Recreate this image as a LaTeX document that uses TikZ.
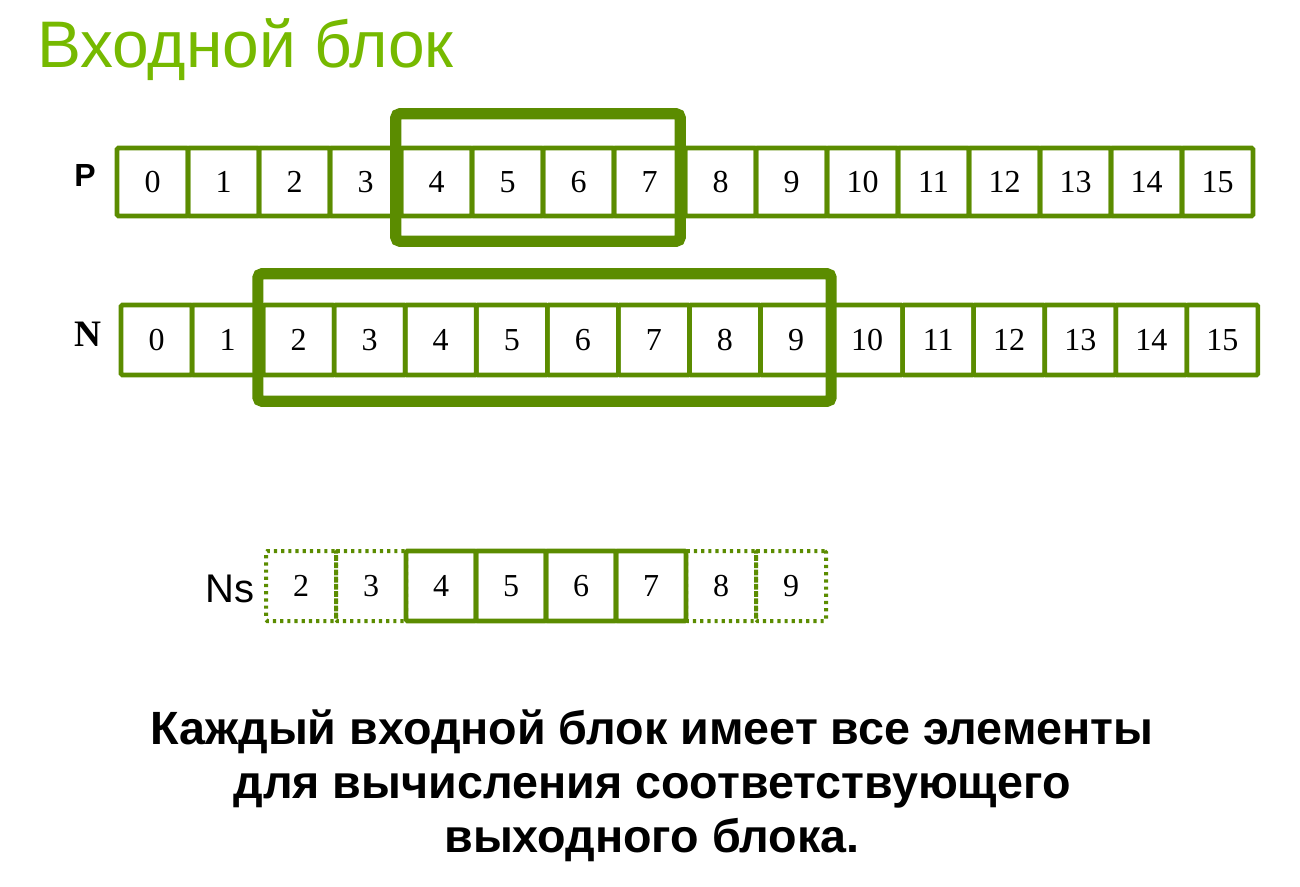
\documentclass[tikz,border=0pt]{standalone}
\usepackage{fontspec}
\setmainfont{Liberation Serif}
\newfontfamily\arialfont{Liberation Sans}
\usetikzlibrary{positioning,calc}
\definecolor{cgreen}{HTML}{5B8C00}
\definecolor{clime}{HTML}{76B900}

\begin{document}
\begin{tikzpicture}[x=0.75pt, y=-0.75pt,
  cell/.style={draw=cgreen, line width=3.4pt, rounded corners=1pt, minimum width=53.25pt,
    minimum height=51pt, inner sep=0pt, font=\fontsize{24}{28}\selectfont},
  ncell/.style={cell, minimum height=52.5pt},
  scell/.style={ncell, minimum width=52.5pt},
  dcell/.style={scell, line width=3pt, dash pattern=on 2.4pt off 3pt},
  hbox/.style={draw=cgreen, line width=8.3pt, rounded corners=3pt},
  lbl/.style={inner sep=0pt},
  ttl/.style={text=clime, font=\arialfont\fontsize{49.4}{58}\selectfont, inner sep=0pt},
  note/.style={font=\arialfont\bfseries\fontsize{35}{42}\selectfont, inner sep=0pt}]
\useasboundingbox (0,0) rectangle (1300,886);

% title
\node[ttl, anchor=base west] (title) at (37,67) {Входной блок};

% row P
\node[lbl, font=\arialfont\bfseries\fontsize{24}{28}\selectfont] (plbl) at (85,175) {P};
\foreach \i in {0,...,15}
  \node[cell] (p\i) at ({152.5+71*\i},182) {\i};

% row N
\node[lbl, font=\bfseries\fontsize{28}{32}\selectfont] (nlbl) at (88,334) {N};
\foreach \i in {0,...,15}
  \node[ncell] (n\i) at ({156.5+71.06*\i},340) {\i};

% input blocks
\draw[hbox] ($(p4.north west)+(-3,-32)$) rectangle ($(p7.south east)+(-7,23)$);
\draw[hbox] ($(n2.north west)+(-3,-29)$) rectangle ($(n9.south east)+(-2.6,24)$);

% row Ns
\node[lbl, font=\arialfont\fontsize{30}{34}\selectfont] (slbl) at (230,589) {Ns};
\foreach \j/\v in {0/2,1/3,6/8,7/9}
  \node[dcell] (s\v) at ({301+70*\j},586) {\v};
\foreach \j/\v in {2/4,3/5,4/6,5/7}
  \node[scell] (s\v) at ({301+70*\j},586) {\v};

% caption
\node[note, anchor=base] (l1) at (652,744) {Каждый входной блок имеет все элементы};
\node[note, anchor=base] (l2) at (652,798) {для вычисления соответствующего};
\node[note, anchor=base] (l3) at (652,852) {выходного блока.};
\end{tikzpicture}
\end{document}
